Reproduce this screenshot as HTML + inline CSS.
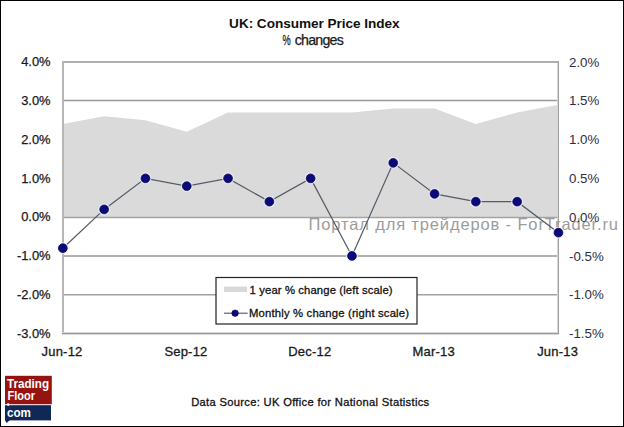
<!DOCTYPE html>
<html><head><meta charset="utf-8"><style>
html,body{margin:0;padding:0;background:#fff;}
body{width:624px;height:427px;overflow:hidden;position:relative;}
svg{position:absolute;left:0;top:0;}
text{font-family:"Liberation Sans",sans-serif;}
</style></head><body>
<svg width="624" height="427" viewBox="0 0 624 427">
<rect x="0" y="0" width="624" height="427" fill="#fff"/>
<g shape-rendering="crispEdges">
<rect x="62" y="100" width="497" height="1" fill="#999"/>
<rect x="62" y="99" width="497" height="1" fill="#e6e6e6"/>
<rect x="62" y="101" width="497" height="1" fill="#e6e6e6"/>
<rect x="62" y="255" width="497" height="2" fill="#b2b2b2"/>
<rect x="62" y="294" width="497" height="1" fill="#a2a2a2"/>
<rect x="62" y="295" width="497" height="1" fill="#d0d0d0"/>
</g>
<path d="M62.85,217.50 L62.85,124.06 L104.15,116.31 L145.45,120.19 L186.75,131.82 L228.05,112.43 L269.35,112.43 L310.65,112.43 L351.95,112.43 L393.25,108.55 L434.55,108.55 L475.85,124.06 L517.15,112.43 L558.45,104.67 L558.45,217.50 Z" fill="#dadada"/>
<g shape-rendering="crispEdges">
<rect x="62" y="216" width="497" height="1" fill="#cdcdcd"/>
<rect x="62" y="217" width="497" height="1" fill="#a2a2a2"/>
<rect x="62" y="218" width="497" height="1" fill="#e8e8e8"/>
<rect x="62" y="61" width="497" height="2" fill="#b0b0b0"/>
<rect x="62" y="61" width="2" height="273" fill="#b6b6b6"/>
<rect x="558" y="61" width="1" height="273" fill="#a0a0a0"/>
<rect x="557" y="63" width="1" height="270" fill="#d6d6d6"/>
<rect x="62" y="333" width="497" height="1" fill="#999"/>
<rect x="62" y="332" width="496" height="1" fill="#d8d8d8"/>
<rect x="62" y="334" width="497" height="1" fill="#d8d8d8"/>
</g>
<text x="308.5" y="230" fill="#9c9c9c" font-size="16.5" textLength="309.5" lengthAdjust="spacing">Портал для трейдеров - ForTrader.ru</text>
<path d="M62.85,248.19 L104.15,209.40 L145.45,178.37 L186.75,186.13 L228.05,178.37 L269.35,201.64 L310.65,178.37 L351.95,255.95 L393.25,162.85 L434.55,193.89 L475.85,201.64 L517.15,201.64 L558.45,232.68" fill="none" stroke="#555a66" stroke-width="1.25"/>
<g>
<circle cx="62.85" cy="248.19" r="6" fill="#eeeeff" opacity="0.75"/><circle cx="62.85" cy="248.19" r="4.4" fill="#0b0a7a" stroke="#03034c" stroke-width="0.7"/>
<circle cx="104.15" cy="209.40" r="6" fill="#eeeeff" opacity="0.75"/><circle cx="104.15" cy="209.40" r="4.4" fill="#0b0a7a" stroke="#03034c" stroke-width="0.7"/>
<circle cx="145.45" cy="178.37" r="6" fill="#eeeeff" opacity="0.75"/><circle cx="145.45" cy="178.37" r="4.4" fill="#0b0a7a" stroke="#03034c" stroke-width="0.7"/>
<circle cx="186.75" cy="186.13" r="6" fill="#eeeeff" opacity="0.75"/><circle cx="186.75" cy="186.13" r="4.4" fill="#0b0a7a" stroke="#03034c" stroke-width="0.7"/>
<circle cx="228.05" cy="178.37" r="6" fill="#eeeeff" opacity="0.75"/><circle cx="228.05" cy="178.37" r="4.4" fill="#0b0a7a" stroke="#03034c" stroke-width="0.7"/>
<circle cx="269.35" cy="201.64" r="6" fill="#eeeeff" opacity="0.75"/><circle cx="269.35" cy="201.64" r="4.4" fill="#0b0a7a" stroke="#03034c" stroke-width="0.7"/>
<circle cx="310.65" cy="178.37" r="6" fill="#eeeeff" opacity="0.75"/><circle cx="310.65" cy="178.37" r="4.4" fill="#0b0a7a" stroke="#03034c" stroke-width="0.7"/>
<circle cx="351.95" cy="255.95" r="6" fill="#eeeeff" opacity="0.75"/><circle cx="351.95" cy="255.95" r="4.4" fill="#0b0a7a" stroke="#03034c" stroke-width="0.7"/>
<circle cx="393.25" cy="162.85" r="6" fill="#eeeeff" opacity="0.75"/><circle cx="393.25" cy="162.85" r="4.4" fill="#0b0a7a" stroke="#03034c" stroke-width="0.7"/>
<circle cx="434.55" cy="193.89" r="6" fill="#eeeeff" opacity="0.75"/><circle cx="434.55" cy="193.89" r="4.4" fill="#0b0a7a" stroke="#03034c" stroke-width="0.7"/>
<circle cx="475.85" cy="201.64" r="6" fill="#eeeeff" opacity="0.75"/><circle cx="475.85" cy="201.64" r="4.4" fill="#0b0a7a" stroke="#03034c" stroke-width="0.7"/>
<circle cx="517.15" cy="201.64" r="6" fill="#eeeeff" opacity="0.75"/><circle cx="517.15" cy="201.64" r="4.4" fill="#0b0a7a" stroke="#03034c" stroke-width="0.7"/>
<circle cx="558.45" cy="232.68" r="6" fill="#eeeeff" opacity="0.75"/><circle cx="558.45" cy="232.68" r="4.4" fill="#0b0a7a" stroke="#03034c" stroke-width="0.7"/>
</g>
<g font-size="12.9" fill="#1a1a1a" stroke="#1a1a1a" stroke-width="0.25" text-anchor="end" letter-spacing="0">
<text x="50.6" y="66.20">4.0%</text>
<text x="50.6" y="104.99">3.0%</text>
<text x="50.6" y="143.78">2.0%</text>
<text x="50.6" y="182.57">1.0%</text>
<text x="50.6" y="221.36">0.0%</text>
<text x="50.6" y="260.15">-1.0%</text>
<text x="50.6" y="298.94">-2.0%</text>
<text x="50.6" y="337.73">-3.0%</text>
</g>
<g font-size="13.3" fill="#2d2d45">
<text x="569.0" y="66.60">2.0%</text>
<text x="569.0" y="105.39">1.5%</text>
<text x="569.0" y="144.18">1.0%</text>
<text x="569.0" y="182.97">0.5%</text>
<text x="569.0" y="221.76">0.0%</text>
<text x="569.0" y="260.55">-0.5%</text>
<text x="569.0" y="299.34">-1.0%</text>
<text x="569.0" y="338.13">-1.5%</text>
</g>
<g font-size="13" fill="#1a1a1a" stroke="#1a1a1a" stroke-width="0.3" text-anchor="middle" letter-spacing="0.2">
<text x="62.05" y="355.6">Jun-12</text>
<text x="185.95" y="355.6">Sep-12</text>
<text x="309.85" y="355.6">Dec-12</text>
<text x="433.75" y="355.6">Mar-13</text>
<text x="557.65" y="355.6">Jun-13</text>
</g>
<text x="229.1" y="28.0" font-size="13.6" font-weight="bold" fill="#111" textLength="170.5" lengthAdjust="spacing">UK: Consumer Price Index</text>
<g font-size="14.2" fill="#1a1a1a" stroke="#1a1a1a" stroke-width="0.25">
<text x="282.4" y="44.6" textLength="8.2" lengthAdjust="spacingAndGlyphs">%</text>
<text x="294.8" y="44.6" textLength="49" lengthAdjust="spacing">changes</text>
</g>
<rect x="216" y="277.5" width="201" height="46.5" fill="#fff" stroke="#222" stroke-width="1.2"/>
<rect x="224" y="286.6" width="23" height="5.4" fill="#d8d8d8"/>
<text x="249.6" y="293.6" font-size="11.3" fill="#111" stroke="#111" stroke-width="0.3" textLength="143" lengthAdjust="spacing">1 year % change (left scale)</text>
<line x1="224" x2="247.7" y1="313.2" y2="313.2" stroke="#50555f" stroke-width="1.1"/>
<circle cx="235.1" cy="313.2" r="3.3" fill="#0b0a7a" stroke="#03034c" stroke-width="0.5"/>
<text x="249" y="317.1" font-size="11.3" fill="#111" stroke="#111" stroke-width="0.3" textLength="160" lengthAdjust="spacing">Monthly % change (right scale)</text>
<text x="191.2" y="405.8" font-size="11.2" fill="#111" stroke="#111" stroke-width="0.3" textLength="238" lengthAdjust="spacing">Data Source: UK Office for National Statistics</text>
<!-- logo -->
<rect x="5" y="375.8" width="46.8" height="28.4" fill="#961410"/>
<rect x="5" y="404.2" width="46.8" height="1" fill="#f0c8d0"/>
<rect x="5" y="405.2" width="46" height="15.2" fill="#0f2855"/>
<path d="M5,420 L6.5,423 L10,420 Z" fill="#0f2855"/>
<circle cx="8.2" cy="404.6" r="1.3" fill="#fff"/>
<g font-weight="bold" fill="#fff" font-size="12.2">
<text x="7" y="387.8" textLength="42" lengthAdjust="spacingAndGlyphs">Trading</text>
<text x="7.5" y="399.5" textLength="27.5" lengthAdjust="spacingAndGlyphs">Floor</text>
<text x="6.9" y="416.8" font-size="13" textLength="24" lengthAdjust="spacingAndGlyphs">com</text>
</g>
<rect x="0.5" y="0.5" width="623" height="426" fill="none" stroke="#000" stroke-width="1" shape-rendering="crispEdges"/>
</svg>
</body></html>
